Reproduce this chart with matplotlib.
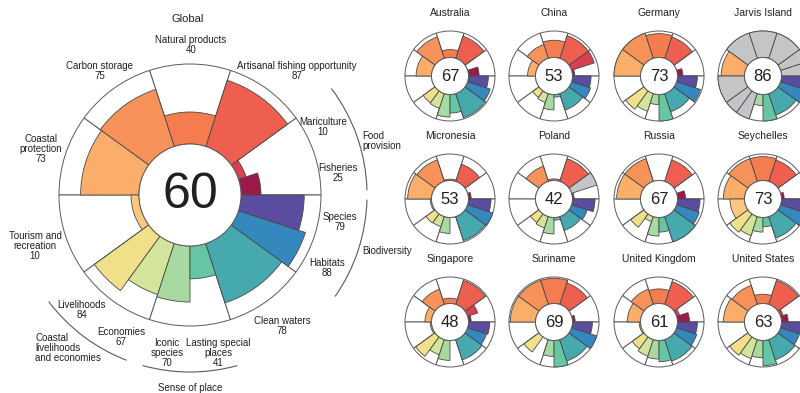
import matplotlib
matplotlib.use("Agg")
import matplotlib.pyplot as plt
from matplotlib.patches import Wedge, Circle, Arc

plt.rcParams["font.family"] = ["Liberation Sans", "DejaVu Sans"]

W, H = 800, 393

# goals in drawing order, counter-clockwise from 3 o'clock
GOALS = ["Fisheries", "Mariculture", "Artisanal fishing opportunity", "Natural products",
         "Carbon storage", "Coastal protection", "Tourism and recreation", "Livelihoods",
         "Economies", "Iconic species", "Lasting special places", "Clean waters",
         "Habitats", "Species"]
WEIGHTS = [0.5, 0.5, 1, 1, 1, 1, 1, 0.5, 0.5, 0.5, 0.5, 1, 0.5, 0.5]
GROUPS = ["FP", "FP", "AO", "NP", "CS", "CP", "TR", "LE", "LE", "SP", "SP", "CW", "BD", "BD"]
COLORS = ["#9b1a4a", "#d7404f", "#ef5f4f", "#f47c4e", "#f7935a", "#faae6a", "#fdc77e",
          "#f1e08a", "#d3e59b", "#a8d9a0", "#66c6a4", "#45a9ae", "#3588be", "#5a4da0"]
NA_COLOR = "#c4c5c7"

GLOBAL_SCORES = [25, 10, 87, 40, 75, 73, 10, 84, 67, 70, 41, 78, 88, 79]
GLOBAL_INDEX = 60

COUNTRIES = ["Australia", "China", "Germany", "Jarvis Island",
             "Micronesia", "Poland", "Russia", "Seychelles",
             "Singapore", "Suriname", "United Kingdom", "United States"]
COUNTRY_INDEX = [67, 53, 73, 86, 53, 42, 67, 73, 48, 69, 61, 63]
N = None
COUNTRY_SCORES = [
    [40, 0, 88, 30, 85, 58, 0, 55, 58, 85, 70, 95, 90, 75],   # Australia
    [8, 90, 90, 65, 55, 30, 0, 30, 35, 58, 10, 65, 75, 70],   # China
    [20, 0, 85, 90, 100, 100, 0, 85, 70, 38, 100, 72, 95, 75],  # Germany
    [N, N, N, N, N, 88, N, N, N, 42, 100, 85, 100, 82],       # Jarvis Island
    [10, 0, 68, 5, 85, 90, 5, 42, 40, 60, 0, 95, 100, 85],    # Micronesia
    [6, N, 90, 6, 60, 0, 0, 40, 45, 62, 10, 55, 62, 85],      # Poland
    [30, 0, 85, 0, 90, 90, 0, 62, 20, 70, 55, 100, 90, 85],   # Russia
    [10, 0, 85, 90, 90, 80, 55, 85, 75, 55, 35, 85, 100, 80],  # Seychelles
    [10, 40, 95, 20, 60, 25, 5, 90, 60, 75, 0, 80, 75, 80],   # Singapore
    [10, 0, 85, 95, 95, 95, 0, 70, 0, 60, 100, 85, 100, 75],  # Suriname
    [45, 12, 90, 55, 60, 50, 5, 55, 65, 70, 80, 85, 80, 75],  # United Kingdom
    [25, 10, 95, 35, 75, 80, 0, 85, 75, 65, 95, 80, 75, 80],  # United States
]

GOAL_LABELS = [
    ("Natural products\n40", 191, 45),
    ("Carbon storage\n75", 100, 71),
    ("Artisanal fishing opportunity\n87", 297, 71),
    ("Mariculture\n10", 323, 127),
    ("Fisheries\n25", 338, 173),
    ("Coastal\nprotection\n73", 41, 149),
    ("Tourism and\nrecreation\n10", 35, 246),
    ("Species\n79", 340, 222),
    ("Habitats\n88", 327, 268),
    ("Livelihoods\n84", 82, 310),
    ("Economies\n67", 121, 337),
    ("Iconic\nspecies\n70", 167, 353),
    ("Lasting special\nplaces\n41", 218, 353),
    ("Clean waters\n78", 282, 326),
]
# (label, x, y, ha, arc start deg, arc end deg)
GROUP_LABELS = [
    ("Food\nprovision", 362, 141, "left", 1.5, 37),
    ("Biodiversity", 362, 251, "left", -35, -1.5),
    ("Coastal\nlivelihoods\nand economies", 35, 348, "left", 217, 249),
    ("Sense of place", 190, 388, "center", 254.5, 285.5),
]

TXT = "#231f20"
LINE = "#5a5a5a"


def flower(ax, cx, cy, R, r0, scores, index, numsize):
    cy = H - cy
    total = sum(WEIGHTS)
    # white group sectors with outline
    a = 0.0
    i = 0
    while i < len(GOALS):
        j = i
        span = 0.0
        while j < len(GOALS) and GROUPS[j] == GROUPS[i]:
            span += WEIGHTS[j] * 360.0 / total
            j += 1
        ax.add_patch(Wedge((cx, cy), R, a, a + span, width=R - r0, facecolor="white",
                           edgecolor=LINE, lw=0.7, zorder=1))
        a += span
        i = j
    # petals
    a = 0.0
    for s, w, c in zip(scores, WEIGHTS, COLORS):
        span = w * 360.0 / total
        if s is None:
            r, fc = R, NA_COLOR
        else:
            r, fc = r0 + (R - r0) * s / 100.0, c
        if r > r0 + 0.1:
            ax.add_patch(Wedge((cx, cy), r, a, a + span, width=r - r0, facecolor=fc,
                               edgecolor="#4a4a4a", lw=0.6, zorder=2))
        a += span
    ax.add_patch(Circle((cx, cy), r0, facecolor="white", edgecolor=LINE, lw=0.7, zorder=3))
    ax.text(cx, cy - 0.5, str(index), ha="center", va="center", fontsize=numsize,
            color=TXT, zorder=4)


fig = plt.figure(figsize=(8, 3.93), dpi=100)
ax = fig.add_axes([0, 0, 1, 1])
ax.set_xlim(0, W)
ax.set_ylim(0, H)
ax.axis("off")

# global flower
GX, GY, GR, G0 = 190, 195, 131, 51
flower(ax, GX, GY, GR, G0, GLOBAL_SCORES, GLOBAL_INDEX, 36)
ax.text(188, H - 19, "Global", ha="center", va="center", fontsize=8, color=TXT)
for lab, x, y in GOAL_LABELS:
    ax.text(x, H - y, lab, ha="center", va="center", fontsize=7, color=TXT,
            linespacing=1.0)
for lab, x, y, ha, t1, t2 in GROUP_LABELS:
    ax.text(x, H - y, lab, ha=ha, va="center", fontsize=7, color=TXT, linespacing=1.0)
    ax.add_patch(Arc((GX, H - GY), 2 * 177, 2 * 177, theta1=t1, theta2=t2,
                     color=LINE, lw=0.8))

# country flowers
XS = [450, 554, 659, 763]
YS = [76, 199, 322]
for k, name in enumerate(COUNTRIES):
    cx, cy = XS[k % 4], YS[k // 4]
    flower(ax, cx, cy, 45, 18.5, COUNTRY_SCORES[k], COUNTRY_INDEX[k], 12)
    ax.text(cx, H - (cy - 63), name, ha="center", va="center", fontsize=7.5, color=TXT)

fig.savefig("out.png", dpi=100)
